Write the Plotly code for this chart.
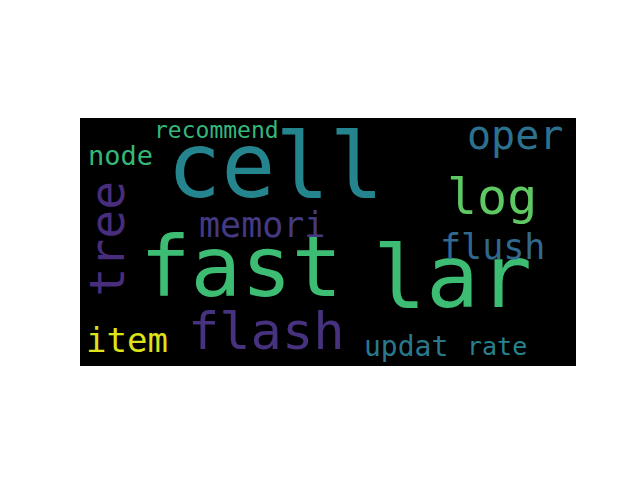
import plotly.graph_objects as go

words  = ["cell", "fast", "lar", "tree", "log", "oper", "memori", "flush",
          "flash", "item", "updat", "rate", "node", "recommend"]
xs     = [158, 130, 300, 22, 332, 351, 147, 333, 150, 38, 263, 336, 33, 110]
ys     = [38, 120, 128, 97, 64, 14, 86, 104, 172, 179, 184, 184, 30, 10]
sizes  = [90, 84, 88, 48, 50, 40, 35, 35, 52, 34, 28, 25, 27, 23]
colors = ["#25858e", "#3dbc74", "#3dbc74", "#472d7b", "#5ec962", "#2c728e",
          "#443983", "#31688e", "#46327e", "#dde318", "#2a788e", "#26828e",
          "#35b779", "#35b779"]
angles = [0, 0, 0, -90, 0, 0, 0, 0, 0, 0, 0, 0, 0, 0]

fig = go.Figure()
fig.add_trace(go.Scatter(x=[0, 400], y=[0, 200], mode="markers",
                         marker=dict(opacity=0), hoverinfo="skip", showlegend=False))
for w, x, y, s, c, a in zip(words, xs, ys, sizes, colors, angles):
    fig.add_annotation(x=x, y=y, xref="x", yref="y", text=w, showarrow=False,
                       textangle=a, xanchor="center", yanchor="middle",
                       font=dict(family="DejaVu Sans Mono", size=s, color=c))

fig.update_layout(
    width=640, height=480,
    margin=dict(l=72, r=72, t=110, b=122),
    paper_bgcolor="white", plot_bgcolor="black",
    showlegend=False,
)
fig.update_xaxes(range=[0, 400], visible=False)
fig.update_yaxes(range=[200, 0], visible=False)
fig.write_html("out.html")
